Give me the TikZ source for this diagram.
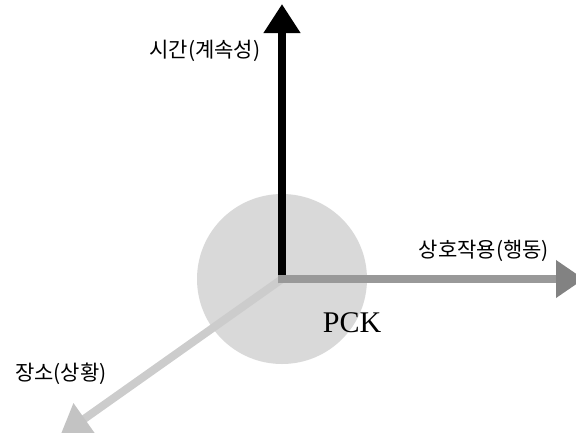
\documentclass[tikz,border=0pt]{standalone}
\usepackage{fontspec}
\setmainfont{Liberation Serif}
\newfontfamily\kor{Noto Sans CJK KR}
\usetikzlibrary{arrows.meta}
\definecolor{discgray}{RGB}{217,217,217}
\definecolor{actgray}{RGB}{153,153,153}
\definecolor{acthead}{RGB}{130,130,130}
\definecolor{placegray}{RGB}{204,204,204}
\definecolor{placehead}{RGB}{195,195,195}
\begin{document}
\begin{tikzpicture}[x=1pt, y=-1pt, axis/.style={line width=8pt}, tag/.style={font=\kor\fontsize{21}{21}\selectfont, inner sep=0pt}]
	\useasboundingbox (0,0) rectangle (576,432);
	\coordinate (O) at (282,279);
	\coordinate (time) at (282,4);
	\coordinate (act) at (584,279);
	\coordinate (place) at (60,436);
	\node[circle, fill=discgray, minimum size=170pt, inner sep=0pt] (disc) at (O) {};
	\draw[axis, placegray, -{Triangle[length=30pt, width=36pt, color=placehead]}] (O) -- (place);
	\draw[axis, black, -{Triangle[length=29pt, width=35pt]}] ([yshift=-4pt]O) -- (time);
	\draw[axis, actgray, -{Triangle[length=28pt, width=36pt, color=acthead]}] ([xshift=-4pt]O) -- (act);
	\node[tag] (timelbl) at (205,51) {시간(계속성)};
	\node[tag] (actlbl) at (484,251) {상호작용(행동)};
	\node[tag] (placelbl) at (61,374) {장소(상황)};
	\node[font=\fontsize{30}{30}\selectfont, inner sep=0pt] (pcklbl) at (352,323) {PCK};
\end{tikzpicture}
\end{document}
